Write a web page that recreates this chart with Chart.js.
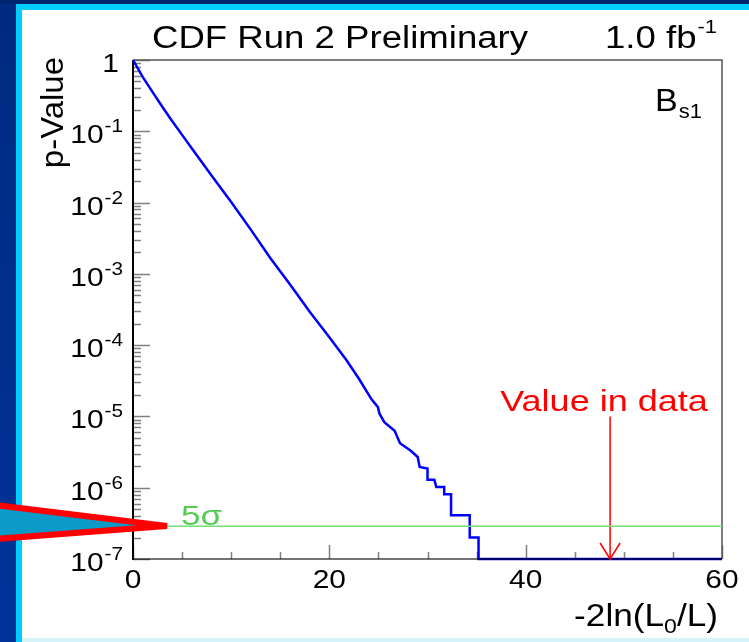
<!DOCTYPE html>
<html>
<head>
<meta charset="utf-8">
<title>p-Value vs -2ln(L0/L)</title>
<script src="https://cdn.jsdelivr.net/npm/chart.js@4.4.1/dist/chart.umd.min.js"></script>
<style>
    html, body { margin: 0; padding: 0; background: #fff; }
    #pvalChart { position: absolute; left: 0; top: 0; }
</style>
</head>
<body>
<canvas id="pvalChart" width="749" height="642"></canvas>
<script>
// Toy MC p-value curve, -2ln(L0/L) on x, p-value on y (log)
const llrValues = [0, 1, 2, 3, 4, 5, 6, 8, 10, 12, 14, 16, 18, 20, 21.7, 23, 24.3, 24.95, 25.1, 25.6,
    26.65, 27.2, 28.3, 29.0, 29.2, 30.0, 30.0, 30.7, 30.9, 31.7, 31.7, 32.4, 32.4, 34.3, 34.3, 35.2, 35.2, 60];
const pValues = [1, 0.575, 0.355, 0.219, 0.138, 0.0891, 0.0575, 0.024, 0.0102, 0.00417, 0.00166, 7.1e-4,
    2.95e-4, 1.29e-4, 6.3e-5, 3.4e-5, 1.74e-5, 1.35e-5, 1.10e-5, 8.3e-6,
    6.3e-6, 4.2e-6, 3.3e-6, 2.7e-6, 1.95e-6, 1.86e-6, 1.29e-6, 1.29e-6, 1.02e-6, 1.02e-6, 8.1e-7, 8.1e-7, 4.1e-7,
    4.1e-7, 2.0e-7, 2.0e-7, 1e-7, 1e-7];

// 5 sigma reference level and observed value
const fiveSigmaP = 2.87e-7;
const observedLLR = 48.6;
const arrowTopP = 1e-5;

// Axis ticks
const xMajorTicks = [0, 20, 40, 60];
const xMinorTicks = [5, 10, 15, 25, 30, 35, 45, 50, 55];
const yDecades = [0, -1, -2, -3, -4, -5, -6, -7];

const FONT = "'Liberation Sans', Arial, Helvetica, sans-serif";
const SX = 1.15; // slide text is a little wider than the font

function text(ctx, str, x, y, size, color, align, sx) {
    const k = sx || SX;
    ctx.save();
    ctx.font = size + 'px ' + FONT;
    ctx.fillStyle = color;
    ctx.textAlign = align || 'left';
    ctx.textBaseline = 'alphabetic';
    ctx.translate(x, y);
    ctx.scale(k, 1);
    ctx.fillText(str, 0, 0);
    const w = ctx.measureText(str).width * k;
    ctx.restore();
    return w;
}

// slide frame behind the plot
const slideFrame = {
    id: 'slideFrame',
    beforeDraw(chart) {
        const ctx = chart.ctx;
        ctx.save();
        ctx.fillStyle = '#ffffff';
        ctx.fillRect(0, 0, 749, 642);
        const g = ctx.createLinearGradient(0, 0, 0, 642);
        g.addColorStop(0, '#002a80');
        g.addColorStop(1, '#003399');
        ctx.fillStyle = g;
        ctx.fillRect(0, 0, 16, 642);
        ctx.fillStyle = '#00246e';
        ctx.fillRect(0, 0, 749, 4);
        ctx.fillStyle = '#00ccff';
        ctx.fillRect(16, 4, 6, 638);
        ctx.fillRect(16, 4, 733, 6);
        ctx.fillStyle = '#d6f3fa';
        ctx.fillRect(22, 638, 727, 4);
        ctx.restore();
    }
};

// ROOT-style axes: inward ticks, frame, labels
const rootAxes = {
    id: 'rootAxes',
    beforeDatasetsDraw(chart) {
        const ctx = chart.ctx;
        const xs = chart.scales.x, ys = chart.scales.y;
        const a = chart.chartArea;
        ctx.save();
        ctx.strokeStyle = '#808080';
        ctx.lineWidth = 1.5;
        ctx.beginPath();
        xMajorTicks.forEach(v => {
            const px = Math.round(xs.getPixelForValue(v)) + 0.5;
            ctx.moveTo(px, a.bottom); ctx.lineTo(px, a.bottom - 14);
        });
        xMinorTicks.forEach(v => {
            const px = Math.round(xs.getPixelForValue(v)) + 0.5;
            ctx.moveTo(px, a.bottom); ctx.lineTo(px, a.bottom - 7);
        });
        yDecades.forEach(d => {
            const py = Math.round(ys.getPixelForValue(Math.pow(10, d))) + 0.5;
            ctx.moveTo(a.left, py); ctx.lineTo(a.left + 17, py);
            if (d < 0) {
                for (let m = 2; m <= 9; m++) {
                    const my = Math.round(ys.getPixelForValue(m * Math.pow(10, d))) + 0.5;
                    ctx.moveTo(a.left, my); ctx.lineTo(a.left + 8, my);
                }
            }
        });
        ctx.stroke();

        // frame
        ctx.strokeStyle = '#555';
        ctx.lineWidth = 1.5;
        ctx.beginPath();
        ctx.moveTo(a.left, a.top); ctx.lineTo(a.right, a.top); ctx.lineTo(a.right, a.bottom);
        ctx.stroke();
        ctx.strokeStyle = '#000';
        ctx.lineWidth = 2;
        ctx.beginPath();
        ctx.moveTo(a.left, a.top); ctx.lineTo(a.left, a.bottom + 1);
        ctx.stroke();
        ctx.restore();
    },
    afterDatasetsDraw(chart) {
        const ctx = chart.ctx;
        const xs = chart.scales.x, ys = chart.scales.y;
        const a = chart.chartArea;
        ctx.save();
        // bottom axis line over the curve tail
        ctx.strokeStyle = 'rgba(0,0,0,0.55)';
        ctx.lineWidth = 2;
        ctx.beginPath();
        ctx.moveTo(a.left - 1, a.bottom); ctx.lineTo(a.right, a.bottom);
        ctx.stroke();

        // arrowhead for observed value
        const ax = xs.getPixelForValue(observedLLR);
        ctx.strokeStyle = '#ff0000';
        ctx.lineWidth = 1.5;
        ctx.beginPath();
        ctx.moveTo(ax - 10, a.bottom - 16); ctx.lineTo(ax, a.bottom); ctx.lineTo(ax + 10, a.bottom - 16);
        ctx.stroke();
        ctx.restore();

        // tick labels
        xMajorTicks.forEach(v => {
            text(ctx, String(v), xs.getPixelForValue(v), 588, 26, '#000', 'center');
        });
        yDecades.forEach(d => {
            const py = ys.getPixelForValue(Math.pow(10, d));
            if (d === 0) {
                text(ctx, '1', 119, py + 12, 26, '#000', 'right');
            } else {
                const ew = text(ctx, String(d), 123, py + 1, 18, '#000', 'right');
                text(ctx, '10', 123 - ew - 1, py + 12, 26, '#000', 'right');
            }
        });

        // titles
        text(ctx, 'CDF Run 2 Preliminary', 152, 48, 31, '#000', 'left', 1.18);
        const fw = text(ctx, '1.0 fb', 605, 48, 31, '#000', 'left', 1.18);
        text(ctx, '-1', 605 + fw + 1, 33, 19, '#000', 'left');

        ctx.save();
        ctx.translate(63, 57);
        ctx.rotate(-Math.PI / 2);
        text(ctx, 'p-Value', 0, 0, 32, '#000', 'right', 1.03);
        ctx.restore();

        // -2ln(L0/L), right aligned
        const rw = text(ctx, '/L)', 718, 626, 32, '#000', 'right', 1.1);
        const sw = text(ctx, '0', 718 - rw, 633, 21, '#000', 'right', 1.1);
        text(ctx, '-2ln(L', 718 - rw - sw, 626, 32, '#000', 'right', 1.1);

        const bw = text(ctx, 'B', 655, 111, 31, '#000', 'left', 1.1);
        text(ctx, 's1', 655 + bw + 1, 118, 20, '#000', 'left', 1.1);

        text(ctx, '5σ', 181, 525, 28, '#55cc55', 'left', 1.25);
        text(ctx, 'Value in data', 604, 411, 30, '#ff0000', 'center', 1.2);

        // pointer triangle on the slide
        ctx.save();
        ctx.beginPath();
        ctx.moveTo(-5, 505);
        ctx.lineTo(167, 526);
        ctx.lineTo(-5, 539);
        ctx.closePath();
        ctx.fillStyle = '#0a9bc9';
        ctx.fill();
        ctx.lineJoin = 'bevel';
        ctx.lineWidth = 6;
        ctx.strokeStyle = '#ff0000';
        ctx.stroke();
        ctx.restore();
    }
};

const toPoints = (xs, ys) => xs.map((x, i) => ({ x, y: ys[i] }));

new Chart(document.getElementById('pvalChart'), {
    type: 'line',
    data: {
        datasets: [
            {
                label: '5 sigma',
                data: [{ x: 0, y: fiveSigmaP }, { x: 60, y: fiveSigmaP }],
                borderColor: '#77dd77',
                borderWidth: 1.5,
                pointRadius: 0,
                tension: 0
            },
            {
                label: 'Value in data',
                data: [{ x: observedLLR, y: arrowTopP }, { x: observedLLR, y: 1e-7 }],
                borderColor: '#ff0000',
                borderWidth: 1.5,
                pointRadius: 0,
                tension: 0
            },
            {
                label: 'p-Value',
                data: toPoints(llrValues, pValues),
                borderColor: '#0000ff',
                borderWidth: 2.5,
                pointRadius: 0,
                tension: 0,
                clip: 3
            }
        ]
    },
    options: {
        responsive: false,
        animation: false,
        devicePixelRatio: 1,
        layout: { padding: { left: 133, top: 60, right: 27, bottom: 83 } },
        plugins: {
            legend: { display: false },
            tooltip: { enabled: false }
        },
        scales: {
            x: { type: 'linear', min: 0, max: 60, display: false },
            y: { type: 'logarithmic', min: 1e-7, max: 1, display: false }
        }
    },
    plugins: [slideFrame, rootAxes]
});
</script>
</body>
</html>
